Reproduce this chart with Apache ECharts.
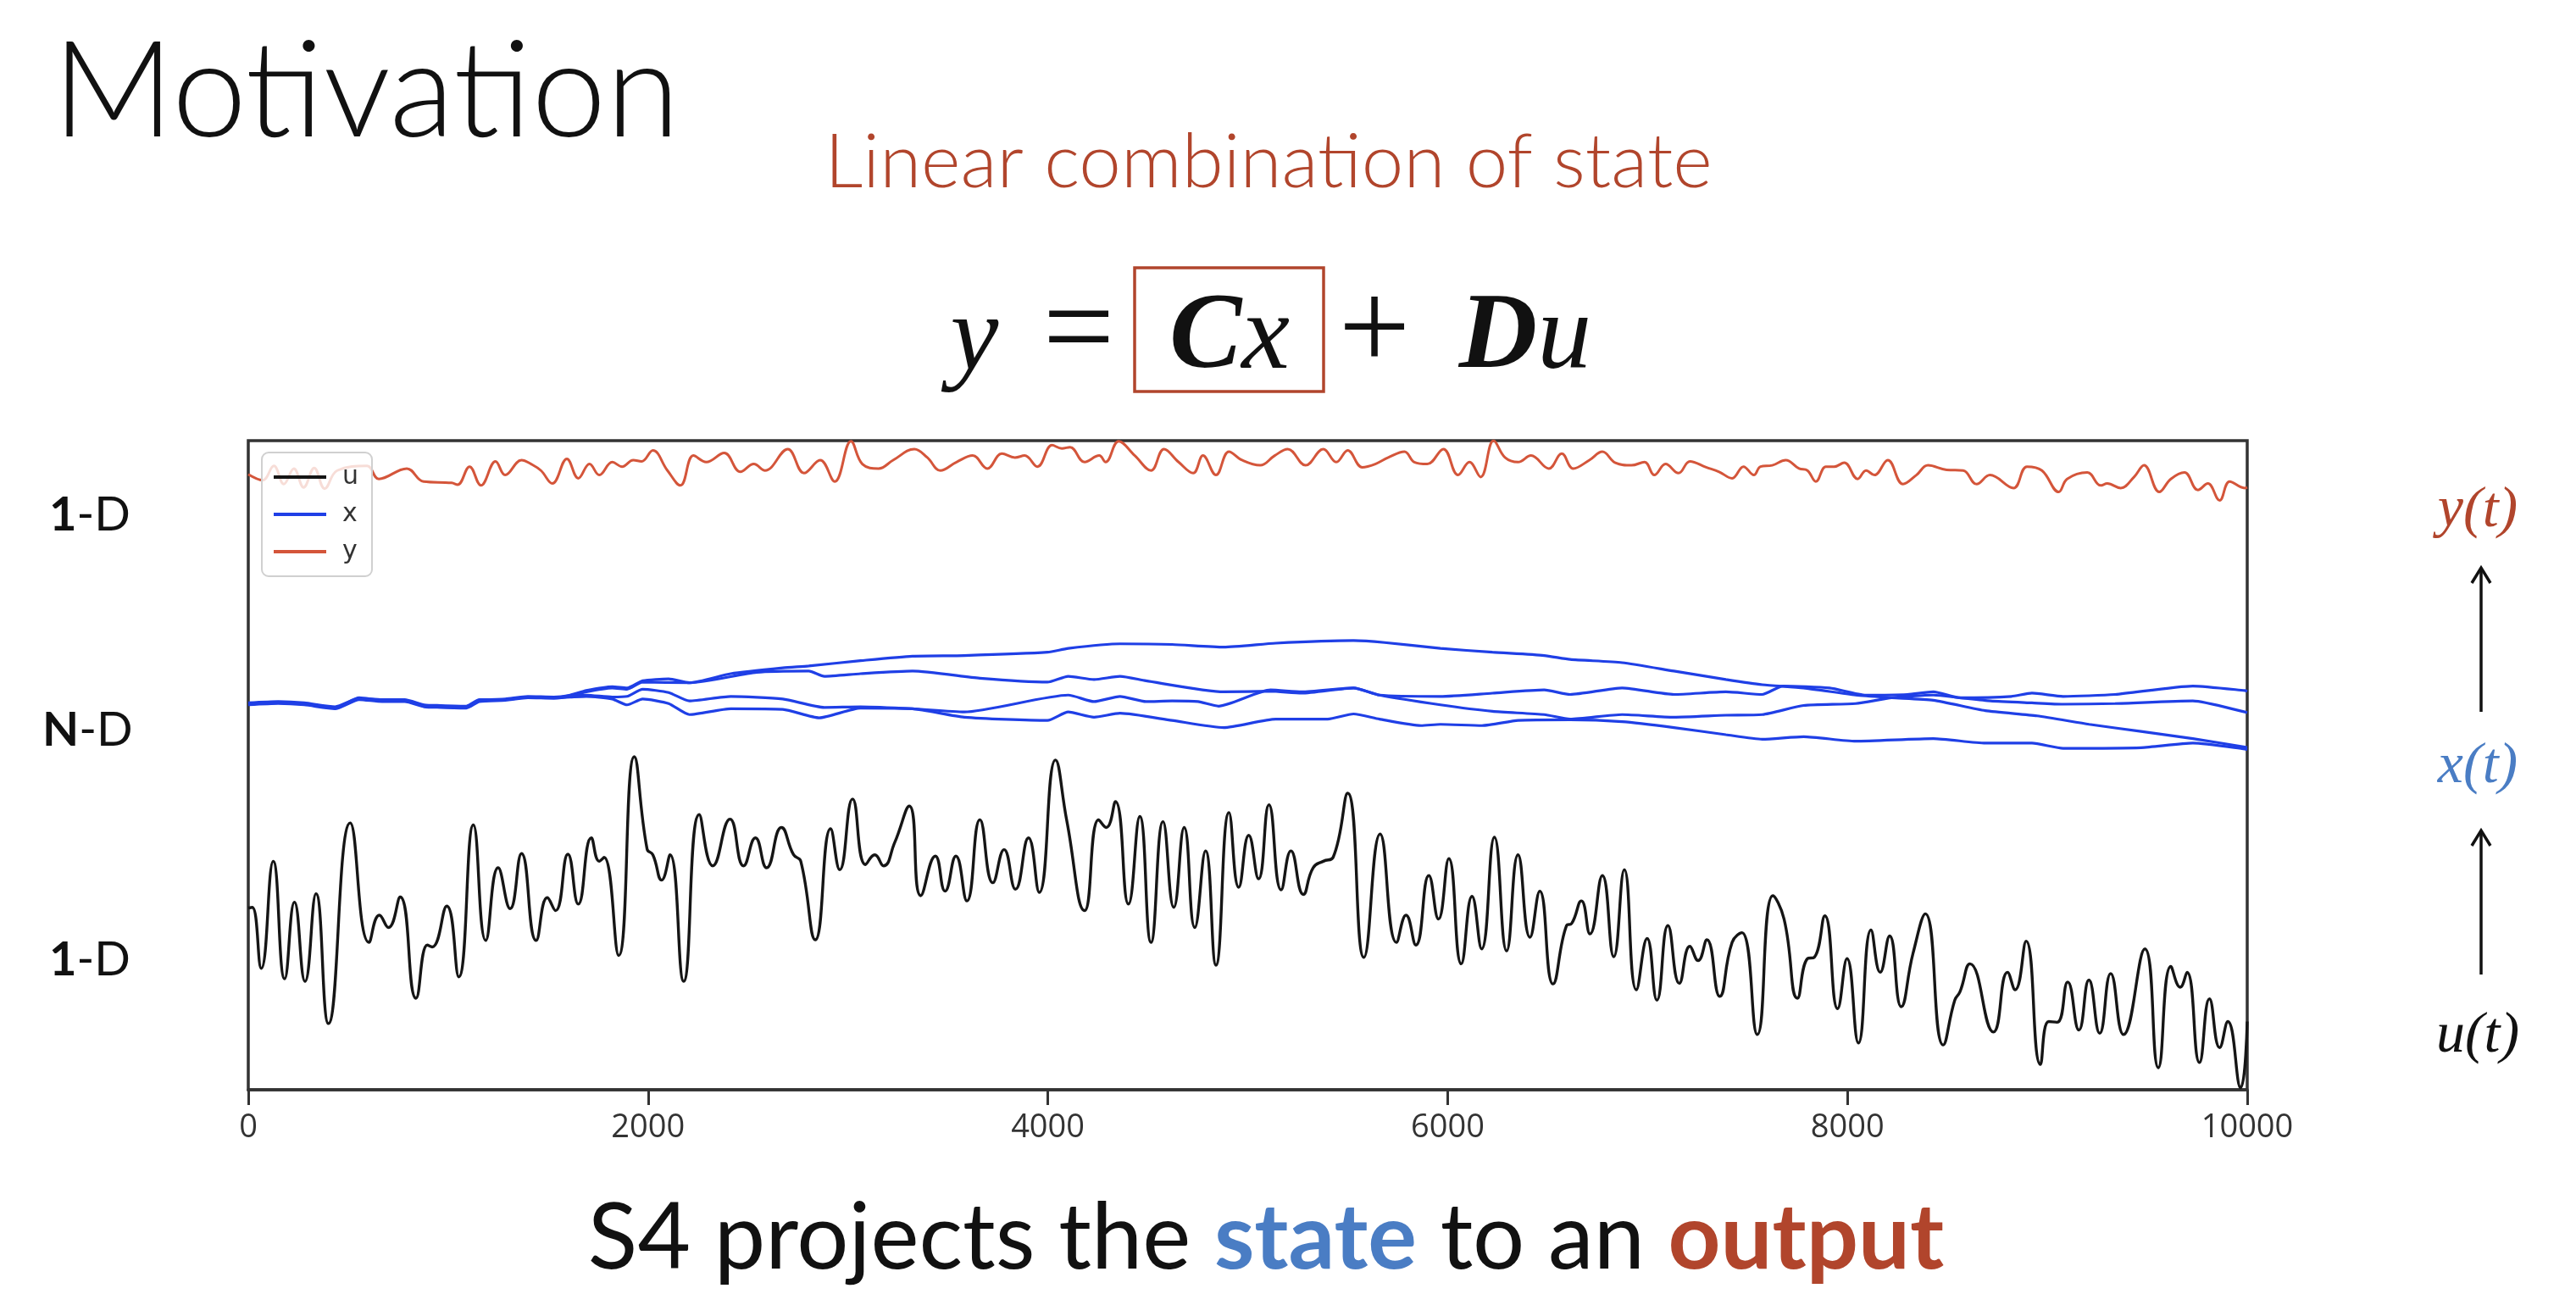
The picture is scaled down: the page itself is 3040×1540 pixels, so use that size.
<!DOCTYPE html>
<html>
<head>
<meta charset="utf-8">
<script src="https://cdn.jsdelivr.net/npm/echarts@6/dist/echarts.min.js"></script>
<style>
html,body{margin:0;padding:0;background:#fff;}
#chart{width:3040px;height:1540px;}
</style>
</head>
<body>
<div id="chart"></div>
<script>
// ---- data (time step, signal level in arbitrary stacked units) ----
var xTicks = [0, 2000, 4000, 6000, 8000, 10000];

var uInput = [[0,28.0],[20,28.1],[65,18.7],[125,35.2],[182,17.1],[231,28.9],[284,16.7],[339,30.2],[401,10.2],[510,41.1],[604,22.7],[656,26.9],[701,25.0],[760,29.7],[839,14.1],[896,22.3],[920,22.0],[993,28.3],[1053,17.4],[1126,40.8],[1188,23.0],[1250,34.2],[1310,27.9],[1367,36.4],[1440,23.0],[1496,29.6],[1537,27.6],[1599,36.3],[1651,28.6],[1716,38.8],[1756,35.2],[1780,35.8],[1853,20.7],[1931,51.3],[1995,37.1],[2024,36.2],[2068,32.3],[2110,36.2],[2178,16.7],[2256,42.4],[2324,34.5],[2410,41.7],[2478,34.5],
[2537,38.8],[2593,34.2],[2667,40.4],[2728,36.2],[2764,35.2],[2837,23.1],[2913,40.2],[2959,33.9],[3023,44.8],[3088,34.7],[3134,36.2],[3178,34.5],[3234,38.1],[3307,43.7],[3364,29.9],[3437,36.0],[3486,30.6],[3540,36.0],[3595,29.1],[3660,41.6],[3725,31.9],[3781,37.0],[3838,30.9],[3903,38.8],[3957,30.4],[4038,50.8],[4095,41.4],[4184,27.6],[4254,41.6],[4292,40.4],[4338,44.4],[4403,28.6],[4460,42.1],[4516,22.7],[4576,41.3],[4630,28.1],[4682,40.4],[4735,25.0],[4789,36.8],[4841,19.2],[4906,42.7],[4955,31.2],[5005,39.2],
[5054,32.5],[5106,43.9],[5167,30.8],[5216,36.8],[5278,30.1],[5327,34.2],[5378,35.2],[5427,35.8],[5500,45.7],[5581,20.4],[5662,39.4],[5744,22.7],[5792,26.9],[5841,22.3],[5906,33.0],[5954,26.3],[6006,35.6],[6068,19.4],[6122,29.8],[6170,21.7],[6234,38.9],[6295,21.4],[6352,36.2],[6412,23.5],[6461,30.6],[6527,16.3],[6595,25.3],[6620,25.6],[6669,29.1],[6712,24.0],[6774,33.0],[6831,20.5],[6884,33.9],[6944,15.4],[6998,23.3],[7047,13.8],[7102,25.3],[7159,16.4],[7212,22.1],[7253,19.9],[7297,23.1],[7361,14.4],[7423,22.7],[7472,24.2],
[7549,8.5],[7627,29.9],[7683,26.3],[7750,14.1],[7800,20.2],[7834,20.4],[7887,26.8],[7951,12.5],[7998,20.2],[8055,7.2],[8118,24.6],[8164,18.1],[8211,23.7],[8269,12.8],[8328,21.0],[8390,27.1],[8479,6.9],[8537,13.8],[8563,15.1],[8613,19.4],[8730,8.9],[8801,18.1],[8839,15.4],[8894,22.9],[8965,3.9],[9007,10.5],[9049,10.4],[9102,16.6],[9158,9.2],[9208,16.9],[9262,8.7],[9317,17.9],[9381,8.5],[9488,21.7],[9555,3.4],[9618,19.0],[9665,15.8],[9699,18.1],[9761,4.2],[9811,14.0],[9862,6.5],[9903,10.5],[9967,0.3],[10000,10.5]];

var yOutput = [[0,94.8],[72,93.9],[128,96.1],[178,93.3],[228,95.7],[277,92.8],[330,95.8],[382,92.6],[445,95.4],[594,96.1],[653,94.1],[793,95.7],[877,93.7],[1017,93.5],[1047,93.2],[1107,96.0],[1164,93.1],[1237,96.8],[1285,94.7],[1367,97.0],[1415,96.4],[1464,95.4],[1521,93.4],[1594,97.2],[1651,94.2],[1707,96.4],[1756,94.7],[1821,96.7],[1870,96.0],[1926,97.0],[1967,96.8],[2024,98.5],[2097,95.4],[2162,93.1],[2227,97.7],[2291,96.7],[2381,98.1],[2462,95.2],[2529,96.4],[2585,95.4],[2699,98.7],[2780,95.0],[2861,97.0],[2934,93.7],[3015,99.9],[3072,96.4],[3153,95.7],[3226,97.0],[3332,98.7],[3397,97.4],[3462,95.4],[3543,96.7],[3624,97.7],[3697,95.7],[3770,98.0],[3835,97.4],[3884,97.7],[3948,96.0],[4021,99.3],[4070,98.8],[4111,99.0],[4184,96.7],[4257,97.7],[4289,96.7],[4354,99.9],[4435,97.7],[4516,95.4],[4581,98.7],[4654,96.7],[4727,95.0],[4776,97.7],[4841,94.7],[4906,98.3],[4971,97.0],[5062,96.2],[5135,97.7],[5200,98.7],[5289,96.2],[5378,98.7],[5443,96.7],[5500,98.5],[5573,95.9],[5638,96.4],[5703,97.4],[5784,98.3],[5833,96.7],[5898,96.4],[5979,98.7],[6052,94.7],[6109,96.7],[6165,94.4],[6230,100.0],[6287,97.4],[6352,96.7],[6417,97.7],[6506,95.7],[6571,98.0],[6628,95.7],[6709,97.0],[6774,98.3],[6839,96.6],[6920,96.2],[6985,96.7],[7034,94.7],[7090,96.4],[7155,95.0],[7212,96.8],[7293,95.9],[7358,95.2],[7423,94.2],[7480,96.0],[7532,94.7],[7565,96.0],[7624,96.2],[7691,97.0],[7758,95.7],[7800,95.4],[7842,93.7],[7892,96.0],[7934,96.0],[7984,96.6],[8051,94.1],[8093,95.4],[8135,94.7],[8202,97.0],[8278,93.3],[8345,94.7],[8403,96.2],[8496,95.5],[8579,95.4],[8646,93.3],[8713,94.7],[8831,92.7],[8898,96.0],[8973,95.4],[9057,92.1],[9099,94.1],[9200,95.1],[9267,93.1],[9300,93.4],[9367,92.7],[9434,94.4],[9484,96.2],[9560,92.1],[9618,94.1],[9686,95.1],[9753,92.4],[9803,93.4],[9862,90.8],[9912,93.7],[9987,92.7],[10000,92.8]];

var xState1 = [[0,59.5],[150,59.7],[280,59.5],[434,58.9],[555,60.4],[669,60.0],[782,60.0],[880,59.2],[961,59.1],[1091,59.0],[1156,60.0],[1286,60.2],[1399,60.6],[1529,60.5],[1610,60.8],[1691,61.5],[1821,62.1],[1895,61.9],[1973,63.0],[2103,63.3],[2207,62.7],[2414,64.1],[2674,65.0],[2804,65.3],[3063,66.1],[3323,66.8],[3582,66.9],[3998,67.4],[4102,68.0],[4361,68.7],[4621,68.6],[4880,68.2],[5140,68.8],[5529,69.2],[5685,68.9],[5964,68.0],[6224,67.4],[6483,66.9],[6613,66.3],[6873,65.8],[7132,64.5],[7392,63.2],[7574,62.4],[7781,61.9],[8041,60.8],[8222,60.4],[8430,60.0],[8690,58.4],[8949,57.6],[9209,56.3],[9469,55.2],[9728,54.1],[9988,52.8],[10000,52.7]];

var xState2 = [[0,59.3],[150,59.5],[280,59.3],[434,58.7],[555,60.1],[669,59.8],[782,59.8],[880,59.0],[961,58.9],[1091,58.8],[1156,59.8],[1286,60.0],[1399,60.4],[1529,60.3],[1610,60.6],[1691,61.3],[1821,61.9],[1895,61.7],[1973,62.8],[2207,62.7],[2544,64.3],[2804,64.5],[2882,63.7],[3063,64.1],[3323,64.5],[3660,63.4],[3998,62.8],[4102,63.7],[4231,63.2],[4361,63.7],[4491,63.0],[4880,61.3],[5114,61.4],[5270,61.1],[5529,61.9],[5659,60.8],[5964,59.3],[6224,58.3],[6483,57.8],[6613,57.1],[6873,57.8],[7132,57.4],[7392,57.7],[7574,57.8],[7781,59.2],[8041,59.5],[8222,60.4],[8430,60.8],[8560,60.4],[8716,59.9],[8923,59.6],[9079,59.4],[9339,59.5],[9728,59.9],[9988,58.2],[10000,58.1]];

var xState3 = [[0,59.6],[150,59.8],[280,59.6],[434,59.0],[555,60.3],[669,60.1],[782,60.1],[880,59.3],[961,59.2],[1091,59.1],[1156,60.1],[1286,60.1],[1399,60.5],[1529,60.4],[1610,60.7],[1691,60.8],[1821,60.5],[1895,60.6],[1973,61.7],[2103,61.2],[2207,59.9],[2414,60.6],[2674,60.2],[2882,58.9],[3063,59.0],[3323,58.7],[3582,58.2],[4102,60.8],[4231,59.8],[4361,60.6],[4491,59.8],[4621,59.9],[4751,59.8],[4854,59.1],[5114,61.6],[5270,61.3],[5529,61.9],[5659,60.8],[5964,60.6],[6224,61.1],[6483,61.6],[6613,60.9],[6873,61.9],[7132,60.9],[7392,61.3],[7574,60.9],[7677,62.2],[7911,61.9],[8093,60.8],[8300,60.9],[8430,61.3],[8560,60.4],[8820,60.6],[8923,61.1],[9079,60.6],[9339,60.9],[9728,62.2],[9988,61.5],[10000,61.4]];

var xState4 = [[0,59.4],[150,59.6],[280,59.4],[434,58.8],[555,60.2],[669,59.9],[782,59.9],[880,59.1],[961,59.0],[1091,58.9],[1156,59.9],[1286,60.1],[1399,60.5],[1529,60.4],[1610,60.5],[1691,60.6],[1821,60.2],[1895,59.3],[1973,60.2],[2103,59.5],[2207,57.8],[2414,58.7],[2674,58.6],[2856,57.3],[3063,58.8],[3323,58.7],[3582,57.4],[3998,56.9],[4102,58.2],[4231,57.4],[4361,58.0],[4621,56.9],[4880,55.8],[5140,57.1],[5400,57.1],[5529,57.9],[5659,57.1],[5867,56.1],[5964,56.3],[6172,56.1],[6353,56.9],[6613,57.0],[6873,56.7],[7132,55.8],[7392,54.7],[7574,54.0],[7781,54.4],[8041,53.7],[8430,54.1],[8690,53.4],[8923,53.4],[9079,52.6],[9469,52.7],[9728,53.4],[9988,52.5],[10000,52.4]];

// ---- colours ----
var RED = '#d4553a', BLUE = '#1f3fe6', BLACK = '#151515';
var BRICK = '#b1452c', SLATE = '#4a7dc4';

var chart = echarts.init(document.getElementById('chart'), null, {renderer: 'canvas'});

function stateSeries(data) {
  return {name: 'x', type: 'line', data: data, symbol: 'none', smooth: 0.2,
          lineStyle: {color: BLUE, width: 3.2}, itemStyle: {color: BLUE}, z: 3};
}

var mathFont = '"Liberation Serif", "DejaVu Serif", serif';
var slideFont = 'Lato, "Open Sans", sans-serif';

var option = {
  backgroundColor: '#ffffff',
  animation: false,
  grid: {left: 293, right: 388, top: 520, bottom: 254, show: true,
         borderColor: '#333', borderWidth: 3.5, backgroundColor: 'transparent'},
  xAxis: {type: 'value', min: xTicks[0], max: xTicks[xTicks.length - 1], interval: 2000,
          axisLine: {show: true, lineStyle: {color: '#333', width: 3.5}},
          axisTick: {show: true, length: 18, lineStyle: {color: '#333', width: 3}},
          axisLabel: {fontSize: 38, color: '#333', margin: 26, fontFamily: '"Open Sans", "DejaVu Sans", sans-serif',
                      formatter: function (v) { return String(v); }},
          splitLine: {show: false}},
  yAxis: {type: 'value', min: 0, max: 100, show: false, splitLine: {show: false}},
  legend: {data: ['u', 'x', 'y'], orient: 'vertical', left: 309, top: 534,
           icon: 'rect', itemWidth: 62, itemHeight: 4, itemGap: 10,
           textStyle: {fontSize: 30, color: '#333', fontFamily: '"DejaVu Sans", sans-serif', lineHeight: 34, padding: [0, 0, 0, 14]},
           backgroundColor: 'rgba(255,255,255,0.8)', borderColor: '#d0d0d0', borderWidth: 2,
           borderRadius: 8, padding: [12, 16, 12, 14], z: 10},
  series: [
    {name: 'u', type: 'line', data: uInput, symbol: 'none', smooth: 0.5,
     lineStyle: {color: BLACK, width: 3.4}, itemStyle: {color: BLACK}, z: 3},
    stateSeries(xState1), stateSeries(xState2), stateSeries(xState3), stateSeries(xState4),
    {name: 'y', type: 'line', data: yOutput, symbol: 'none', smooth: 0.4,
     lineStyle: {color: RED, width: 3.0}, itemStyle: {color: RED}, z: 3}
  ],
  graphic: [
    {type: 'text', x: 62, y: 110, style: {text: 'Motivation', fill: '#111', fontSize: 158, fontFamily: slideFont, fontWeight: 300, align: 'left', verticalAlign: 'middle'}},
    {type: 'text', x: 1497, y: 192, style: {text: 'Linear combination of state', fill: BRICK, fontSize: 89, fontFamily: slideFont, fontWeight: 300, align: 'center', verticalAlign: 'middle'}},
    // equation
    {type: 'text', x: 1150, y: 402, style: {text: 'y', fill: '#111', fontSize: 128, fontFamily: mathFont, fontStyle: 'italic', align: 'center', verticalAlign: 'middle'}},
    {type: 'text', x: 1273, y: 396, style: {text: '=', fill: '#111', fontSize: 150, fontFamily: mathFont, align: 'center', verticalAlign: 'middle'}},
    {type: 'rect', shape: {x: 1339, y: 316, width: 223, height: 146}, style: {fill: 'none', stroke: BRICK, lineWidth: 3.5}},
    {type: 'text', x: 1451, y: 400, style: {text: '{c|C}{v|x}', align: 'center', verticalAlign: 'middle',
      rich: {c: {fontSize: 128, fontFamily: mathFont, fontStyle: 'italic', fontWeight: 'bold', fill: '#111'},
             v: {fontSize: 128, fontFamily: mathFont, fontStyle: 'italic', fill: '#111'}}}},
    {type: 'text', x: 1622, y: 396, style: {text: '+', fill: '#111', fontSize: 150, fontFamily: mathFont, align: 'center', verticalAlign: 'middle'}},
    {type: 'text', x: 1800, y: 400, style: {text: '{c|D}{v|u}', align: 'center', verticalAlign: 'middle',
      rich: {c: {fontSize: 128, fontFamily: mathFont, fontStyle: 'italic', fontWeight: 'bold', fill: '#111'},
             v: {fontSize: 128, fontFamily: mathFont, fontStyle: 'italic', fill: '#111'}}}},
    // left row labels
    {type: 'text', x: 58, y: 608, style: {text: '{b|1}{n|-D}', align: 'left', verticalAlign: 'middle',
      rich: {b: {fontSize: 56, fontFamily: slideFont, fontWeight: 'bold', fill: '#111'}, n: {fontSize: 56, fontFamily: slideFont, fill: '#111'}}}},
    {type: 'text', x: 50, y: 862, style: {text: '{b|N}{n|-D}', align: 'left', verticalAlign: 'middle',
      rich: {b: {fontSize: 56, fontFamily: slideFont, fontWeight: 'bold', fill: '#111'}, n: {fontSize: 56, fontFamily: slideFont, fill: '#111'}}}},
    {type: 'text', x: 58, y: 1133, style: {text: '{b|1}{n|-D}', align: 'left', verticalAlign: 'middle',
      rich: {b: {fontSize: 56, fontFamily: slideFont, fontWeight: 'bold', fill: '#111'}, n: {fontSize: 56, fontFamily: slideFont, fill: '#111'}}}},
    // right signal labels
    {type: 'text', x: 2924, y: 603, style: {text: 'y(t)', fill: BRICK, fontSize: 68, fontFamily: mathFont, fontStyle: 'italic', align: 'center', verticalAlign: 'middle'}},
    {type: 'text', x: 2924, y: 905, style: {text: 'x(t)', fill: SLATE, fontSize: 68, fontFamily: mathFont, fontStyle: 'italic', align: 'center', verticalAlign: 'middle'}},
    {type: 'text', x: 2924, y: 1223, style: {text: 'u(t)', fill: '#111', fontSize: 68, fontFamily: mathFont, fontStyle: 'italic', align: 'center', verticalAlign: 'middle'}},
    // arrows
    {type: 'line', shape: {x1: 2928, y1: 840, x2: 2928, y2: 672}, style: {stroke: '#111', lineWidth: 3.5}},
    {type: 'polyline', shape: {points: [[2917, 688], [2928, 670], [2939, 688]]}, style: {stroke: '#111', lineWidth: 3.5, fill: 'none'}},
    {type: 'line', shape: {x1: 2928, y1: 1150, x2: 2928, y2: 982}, style: {stroke: '#111', lineWidth: 3.5}},
    {type: 'polyline', shape: {points: [[2917, 998], [2928, 980], [2939, 998]]}, style: {stroke: '#111', lineWidth: 3.5, fill: 'none'}},
    // bottom caption
    {type: 'text', x: 1494, y: 1462, style: {text: '{a|S4 projects the }{b|state}{a| to an }{c|output}', align: 'center', verticalAlign: 'middle',
      rich: {a: {fontSize: 108, fontFamily: slideFont, fill: '#111'},
             b: {fontSize: 108, fontFamily: slideFont, fontWeight: 'bold', fill: SLATE},
             c: {fontSize: 108, fontFamily: slideFont, fontWeight: 'bold', fill: BRICK}}}}
  ]
};
chart.setOption(option);
</script>
</body>
</html>
